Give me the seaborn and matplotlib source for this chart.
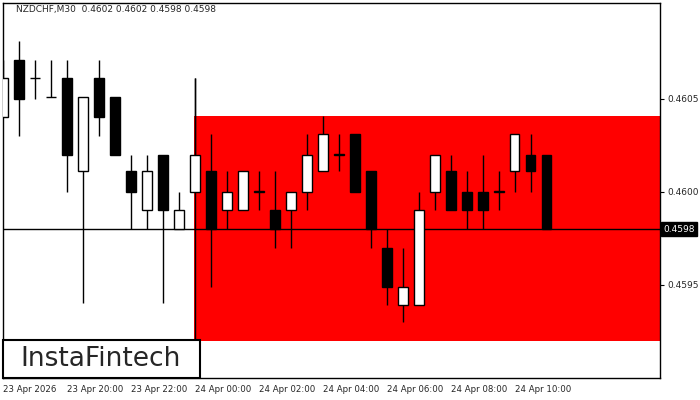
import numpy as np
import matplotlib
matplotlib.use("Agg")
import matplotlib.pyplot as plt
import seaborn as sns
from matplotlib.patches import Rectangle

sns.set_style("white")
plt.rcParams['font.family'] = ['DejaVu Sans']

# OHLC for NZDCHF M30
opens = [0.46040, 0.46071, 0.46061, 0.46051, 0.46061, 0.46011, 0.46061, 0.46051, 0.46011, 0.45990,
         0.46020, 0.45980, 0.46000, 0.46011, 0.45990, 0.45990, 0.46000, 0.45990, 0.45990, 0.46000,
         0.46011, 0.46020, 0.46031, 0.46011, 0.45970, 0.45939, 0.45939, 0.46000, 0.46011, 0.46000,
         0.46000, 0.46000, 0.46011, 0.46020, 0.46020]
highs = [0.46071, 0.46081, 0.46071, 0.46071, 0.46071, 0.46051, 0.46071, 0.46051, 0.46020, 0.46020,
         0.46020, 0.46000, 0.46061, 0.46031, 0.46011, 0.46011, 0.46011, 0.46011, 0.46000, 0.46031,
         0.46041, 0.46031, 0.46031, 0.46011, 0.45980, 0.45970, 0.46000, 0.46020, 0.46020, 0.46011,
         0.46020, 0.46011, 0.46031, 0.46031, 0.46020]
lows = [0.46040, 0.46030, 0.46050, 0.46051, 0.46000, 0.45940, 0.46030, 0.46020, 0.45980, 0.45980,
        0.45940, 0.45980, 0.46000, 0.45949, 0.45980, 0.46011, 0.45990, 0.45970, 0.45970, 0.45990,
        0.46011, 0.46011, 0.46000, 0.45970, 0.45939, 0.45930, 0.45939, 0.45990, 0.45990, 0.45980,
        0.45980, 0.45990, 0.46000, 0.46000, 0.45980]
closes = [0.46061, 0.46050, 0.46061, 0.46051, 0.46020, 0.46051, 0.46040, 0.46020, 0.46000, 0.46011,
          0.45990, 0.45990, 0.46020, 0.45980, 0.46000, 0.46011, 0.46000, 0.45980, 0.46000, 0.46020,
          0.46031, 0.46020, 0.46000, 0.45980, 0.45949, 0.45949, 0.45990, 0.46020, 0.45990, 0.45990,
          0.45990, 0.46000, 0.46031, 0.46011, 0.45980]
tick_idx = [0, 4, 8, 12, 16, 20, 24, 28, 32]
tick_labels = ["23 Apr 2026", "23 Apr 20:00", "23 Apr 22:00", "24 Apr 00:00", "24 Apr 02:00",
               "24 Apr 04:00", "24 Apr 06:00", "24 Apr 08:00", "24 Apr 10:00"]
zone_start, zone_top, zone_bottom = 12, 0.46041, 0.45920
last_price = 0.4598

o, h, l, c = map(np.array, (opens, highs, lows, closes))
x = np.arange(len(o))
x0, x1 = 0.06, 41.1
y0, y1 = 0.458999, 0.461015

fig = plt.figure(figsize=(7, 4), dpi=100)
ax = fig.add_axes([3/700, 22/400, 657/700, 375/400])

# red pattern zone
ax.axhspan(zone_bottom, zone_top, xmin=(zone_start - x0) / (x1 - x0), xmax=1,
           color="#ff0000", lw=0, zorder=0)
ax.vlines(zone_start, zone_bottom, h[zone_start], color="black", lw=1, zorder=1)

ax.vlines(x, l, h, color="black", lw=1, zorder=2)
up = c >= o
body = np.maximum(np.abs(c - o), 0.000002)
ax.bar(x[up], body[up], bottom=o[up], width=0.62, color="white", edgecolor="black", lw=1, zorder=3)
ax.bar(x[~up], body[~up], bottom=c[~up], width=0.62, color="black", edgecolor="black", lw=1, zorder=3)

ax.axhline(last_price, color="black", lw=1, zorder=1.5)

ax.set_xlim(x0, x1)
ax.set_ylim(y0, y1)
ax.set_xticks(tick_idx)
ax.set_xticklabels(tick_labels, fontsize=6.2, ha="left")
ax.yaxis.tick_right()
ax.set_yticks([0.4595, 0.4600, 0.4605])
ax.set_yticklabels(["0.4595", "0.4600", "0.4605"], fontsize=6.5)
ax.tick_params(length=3, color="black", pad=2)
for s in ax.spines.values():
    s.set_color("black")
    s.set_linewidth(1)

ax.text(1.005, (last_price - y0) / (y1 - y0), "0.4598", transform=ax.transAxes,
        fontsize=6.5, color="white", va="center", ha="left",
        bbox=dict(boxstyle="square,pad=0.3", fc="black", ec="black"))
ax.text(0.02, 0.995, "NZDCHF,M30  0.4602 0.4602 0.4598 0.4598", transform=ax.transAxes,
        fontsize=6.5, va="top", ha="left")

# logo box
fig.patches.append(Rectangle((3/700, 22/400), 197/700, 38/400, transform=fig.transFigure,
                             fc="white", ec="black", lw=1.5, zorder=5))
fig.text(101/700, 41/400, "InstaFintech", fontsize=19, va="center", ha="center", zorder=6)

fig.savefig("out.png", dpi=100)
